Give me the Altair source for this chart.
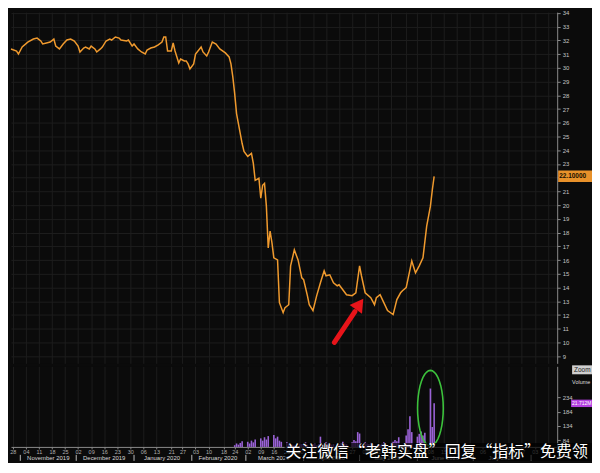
import math
import altair as alt
import pandas as pd

# ---------------- data ----------------
START = pd.Timestamp("2019-10-28")

PRICE_DAY = [-1, 2, 3, 5, 8, 11, 13, 15, 16, 18, 20, 22, 23, 25, 27, 29, 31, 33, 35, 36,
             38, 39, 41, 42, 44, 45, 47, 48, 50, 52, 53, 55, 57, 58, 61, 62, 64, 65, 67, 69,
             71, 72, 74, 76, 78, 80, 81, 82, 83, 85, 86, 87, 89, 90, 92, 93, 94, 95, 97, 98,
             101, 102, 104, 105, 107, 109, 111, 114, 116, 117, 118, 119, 120, 121, 123, 124,
             126, 128, 129, 130, 132, 133, 134, 135, 136, 137, 138, 139, 140, 142, 143, 145,
             146, 148, 149, 151, 153, 155, 156, 158, 159, 161, 163, 165, 167, 168, 170, 172,
             174, 175, 177, 179, 182, 184, 186, 187, 189, 192, 194, 195, 197, 199, 201, 204,
             206, 208, 209, 211, 213, 214, 216, 218, 220, 222, 224, 225, 226]
PRICE_VAL = [31.38, 31.23, 31.01, 31.52, 31.88, 32.10, 32.17, 31.96, 31.74, 31.81, 31.88, 32.10,
             31.59, 31.38, 31.74, 32.03, 32.10, 31.96, 31.59, 31.16, 31.45, 31.52, 31.38, 31.59,
             31.38, 31.16, 31.38, 31.52, 31.96, 32.10, 32.03, 32.25, 32.17, 32.03, 31.96, 32.03,
             31.59, 31.74, 31.38, 31.16, 31.01, 31.30, 31.45, 31.52, 31.67, 31.88, 32.25, 32.25,
             31.23, 31.23, 31.81, 31.23, 30.36, 30.65, 30.51, 30.51, 30.29, 29.93, 30.29, 31.01,
             31.52, 31.16, 30.87, 31.16, 31.88, 31.74, 31.38, 31.09, 30.80, 30.29, 29.35, 28.12,
             26.67, 25.94, 24.49, 23.91, 23.55, 23.77, 23.04, 21.81, 21.96, 20.51, 21.45, 21.59,
             19.93, 16.88, 18.12, 17.25, 16.16, 16.01, 12.90, 12.17, 12.54, 12.75, 15.58, 16.74,
             16.01, 14.71, 14.57, 13.41, 12.75, 12.32, 13.41, 14.35, 15.22, 14.86, 14.93, 14.35,
             14.13, 14.20, 13.84, 13.48, 13.41, 13.62, 15.58, 14.86, 13.62, 13.26, 12.75, 13.26,
             13.48, 12.90, 12.32, 12.03, 13.12, 13.62, 13.77, 13.99, 15.29, 15.94, 15.07, 15.58,
             16.16, 18.48, 19.93, 21.09, 22.10]
assert len(PRICE_DAY) == len(PRICE_VAL)

VOL_DAY = [119, 120, 121, 122, 123, 126, 127, 128, 129, 130, 133, 134, 135, 136, 137,
           140, 141, 142, 143, 144, 147, 148, 149, 150, 151, 154, 155, 156, 157, 158,
           161, 162, 163, 164, 165, 168, 169, 170, 171, 172, 175, 176, 177, 178, 179,
           182, 183, 184, 185, 186, 189, 190, 191, 192, 193, 196, 197, 198, 199, 200,
           203, 204, 205, 206, 207, 211, 212, 213, 214, 217, 218, 219, 220, 221, 224, 225, 226]
VOL_VAL = [66, 72, 68, 74, 80, 78, 72, 82, 76, 86, 90, 82, 94, 86, 98,
           102, 90, 96, 82, 78, 76, 72, 70, 68, 66, 72, 70, 66, 76, 68,
           70, 74, 66, 70, 96, 76, 72, 70, 68, 70, 70, 74, 78, 72, 70,
           76, 84, 80, 112, 107, 76, 72, 70, 74, 70, 70, 68, 72, 76, 70,
           74, 78, 84, 80, 94, 100, 122, 168, 112, 96, 106, 114, 100, 110, 265, 130, 213]
assert len(VOL_DAY) == len(VOL_VAL)

TICK_DATES = ["2019-10-28", "2019-11-04", "2019-11-11", "2019-11-18", "2019-11-25",
              "2019-12-02", "2019-12-09", "2019-12-16", "2019-12-23", "2019-12-30",
              "2020-01-06", "2020-01-13", "2020-01-21", "2020-01-27", "2020-02-03",
              "2020-02-10", "2020-02-18", "2020-02-24", "2020-03-02", "2020-03-09",
              "2020-03-16", "2020-03-23", "2020-03-30", "2020-04-06", "2020-04-13",
              "2020-04-20", "2020-04-27", "2020-05-04", "2020-05-11", "2020-05-18",
              "2020-05-26", "2020-06-01", "2020-06-08", "2020-06-15", "2020-06-22",
              "2020-06-29", "2020-07-06", "2020-07-13", "2020-07-20", "2020-07-27",
              "2020-08-03", "2020-08-10"]
MONTH_LABEL = ["November 2019", "December 2019", "January 2020", "February 2020",
               "March 2020", "April 2020", "May 2020", "June 2020", "July 2020"]
MONTH_MID = ["2019-11-16", "2019-12-16", "2020-01-16", "2020-02-15", "2020-03-16",
             "2020-04-16", "2020-05-16", "2020-06-16", "2020-07-16"]
MONTH_START = ["2019-11-01", "2019-12-01", "2020-01-01", "2020-02-01", "2020-03-01",
               "2020-04-01", "2020-05-01", "2020-06-01", "2020-07-01", "2020-08-01"]

PRICE_TICKS = list(range(9, 35))
VOL_TICKS = [84, 134, 184, 234]
VOL_BASE = 60
LAST_PRICE_TEXT = "22.10000"
LAST_VOL_TEXT = "21.712M"

ARROW_DAY = [172.5, 183.5]
ARROW_VAL = [10.0, 12.25]
ARROW_HEAD_DAY = [186]
ARROW_HEAD_VAL = [12.8]
CIRCLE_DAY = [224]
CIRCLE_VOL = [196]

WATERMARK = "关注微信“老韩实盘”回复“指标”免费领"

# ---------------- helpers ----------------
def to_date(d):
    return (START + pd.Timedelta(hours=24 * d)).strftime("%Y-%m-%dT%H:%M:%SZ")


def dt(s):
    y, m, d = (int(p) for p in s.split("-"))
    return alt.DateTime(year=y, month=m, date=d, utc=True)


def iso(s):
    return s + "T00:00:00Z"


price_df = pd.DataFrame({"date": [to_date(d) for d in PRICE_DAY], "price": PRICE_VAL})
vol_df = pd.DataFrame({"date": [to_date(d) for d in VOL_DAY], "volume": VOL_VAL})
month_df = pd.DataFrame({"date": [iso(s) for s in MONTH_MID], "label": MONTH_LABEL})
mstart_df = pd.DataFrame({"date": [iso(s) for s in MONTH_START]})
arrow_df = pd.DataFrame({"date": [to_date(d) for d in ARROW_DAY], "price": ARROW_VAL})
head_df = pd.DataFrame({"date": [to_date(d) for d in ARROW_HEAD_DAY], "price": ARROW_HEAD_VAL})
circle_df = pd.DataFrame({"date": [to_date(d) for d in CIRCLE_DAY], "volume": CIRCLE_VOL})
last_price_df = pd.DataFrame({"price": [PRICE_VAL[-1]],
                              "lo": [PRICE_VAL[-1] - 0.42], "hi": [PRICE_VAL[-1] + 0.42],
                              "txt": [LAST_PRICE_TEXT]})
last_vol_df = pd.DataFrame({"volume": [VOL_VAL[-1]],
                            "lo": [VOL_VAL[-1] - 13], "hi": [VOL_VAL[-1] + 13],
                            "txt": [LAST_VOL_TEXT]})
one = pd.DataFrame({"k": [0]})

W = 549
H_PRICE = 353
H_VOL = 81
RIGHT = 35          # room right of the plot (page body is 584 px wide)
BG = "#0b0b0b"
GRID = "#1d1d1d"
LBL = "#c4c4c4"
AX = "#8a8a8a"
ORANGE = "#f09a2e"
PURPLE = "#9a62d6"
FONT = "Liberation Sans"

tick_vals = [dt(s) for s in TICK_DATES]
x_scale = alt.Scale(type="utc", domain=[dt("2019-10-27"), dt("2020-08-15")])
y_price = alt.Scale(domain=[8.48, 34.06], nice=False, zero=False)
y_vol = alt.Scale(domain=[VOL_BASE, 343], nice=False, zero=False)

price_x_axis = alt.Axis(values=tick_vals, labels=False, ticks=False, domain=False,
                        grid=True, gridColor=GRID)
price_y_axis = alt.Axis(orient="right", values=PRICE_TICKS, grid=True, gridColor=GRID,
                        labelColor=LBL, labelFontSize=6, tickSize=3, tickColor=AX,
                        domainColor=AX, labelPadding=2, labelFont=FONT, labelOverlap=False)
vol_x_axis = alt.Axis(values=tick_vals, format="%d", labelColor="#b0b0b0",
                      labelFontSize=5.5, tickSize=2, tickColor=AX, domainColor=AX,
                      labelPadding=1, grid=True, gridColor=GRID, labelFont=FONT,
                      labelOverlap=False)
vol_y_axis = alt.Axis(orient="right", values=VOL_TICKS, grid=False,
                      labelColor=LBL, labelFontSize=6, tickSize=3, tickColor=AX,
                      domainColor=AX, labelPadding=2, labelFont=FONT, labelOverlap=False)

PX = alt.X("date:T", scale=x_scale, axis=price_x_axis, title=None)
VX = alt.X("date:T", scale=x_scale, axis=vol_x_axis, title=None)


def PY(field):
    return alt.Y(field, scale=y_price, axis=price_y_axis, title=None)


def VY(field):
    return alt.Y(field, scale=y_vol, axis=vol_y_axis, title=None)


# ---------------- price panel ----------------
line = alt.Chart(price_df).mark_line(color=ORANGE, strokeWidth=1.5).encode(
    x=PX, y=PY("price:Q"))

price_box = alt.Chart(last_price_df).mark_rect(color="#e8912a").encode(
    x=alt.value(W + 1), x2=alt.value(W + RIGHT), y=PY("lo:Q"), y2="hi:Q")
price_txt = alt.Chart(last_price_df).mark_text(
    align="left", baseline="middle", fontSize=6.5, color="#1a1000", font=FONT, fontWeight="bold"
).encode(x=alt.value(W + 2), y=PY("price:Q"), text="txt:N")

arrow = alt.Chart(arrow_df).mark_line(color="#e8141a", strokeWidth=5, strokeCap="round").encode(
    x=PX, y=PY("price:Q"))
head = alt.Chart(head_df).mark_point(shape="triangle-up", angle=35, size=230, filled=True,
                                     color="#e8141a", opacity=1).encode(
    x=PX, y=PY("price:Q"))

price_panel = alt.layer(line, price_box, price_txt, arrow, head).properties(
    width=W, height=H_PRICE)

# ---------------- volume panel ----------------
bars = alt.Chart(vol_df).mark_rule(color=PURPLE, strokeWidth=1.6).encode(
    x=VX, y=VY("volume:Q"), y2=alt.datum(VOL_BASE))

n = 40
ell_pts = []
for i in range(n):
    a = 2 * math.pi * i / n
    ell_pts.append(f"{0.34 * math.sin(a):.3f},{-math.cos(a):.3f}")
ELLIPSE = "M" + " L".join(ell_pts) + " Z"

circle = alt.Chart(circle_df).mark_point(shape=ELLIPSE, size=76 * 76, color="#3cc23c",
                                         strokeWidth=1.6, filled=False, opacity=1).encode(
    x=VX, y=VY("volume:Q"))

month_txt = alt.Chart(month_df).mark_text(fontSize=6, color="#d8d8d8", font=FONT,
                                          baseline="middle").encode(
    x=VX, y=alt.value(H_VOL + 11), text="label:N")
month_sep = alt.Chart(mstart_df).mark_rule(color="#bbbbbb", strokeWidth=1).encode(
    x=VX, y=alt.value(H_VOL + 8), y2=alt.value(H_VOL + 14))

vol_box = alt.Chart(last_vol_df).mark_rect(color="#b43fe0").encode(
    x=alt.value(W + 14), x2=alt.value(W + RIGHT), y=VY("lo:Q"), y2="hi:Q")
vol_txt = alt.Chart(last_vol_df).mark_text(align="left", baseline="middle", fontSize=5,
                                           color="white", font=FONT).encode(
    x=alt.value(W + 15), y=VY("volume:Q"), text="txt:N")

zoom_box = alt.Chart(one).mark_rect(color="#cfcfcf").encode(
    x=alt.value(W + 15), x2=alt.value(W + RIGHT), y=alt.value(-1), y2=alt.value(8))
zoom_txt = alt.Chart(one).mark_text(text="Zoom", fontSize=6.5, color="#222222", font=FONT,
                                    baseline="middle", align="left").encode(
    x=alt.value(W + 17), y=alt.value(3.5))
volume_txt = alt.Chart(one).mark_text(text="Volume", fontSize=5.5, color="#dddddd", font=FONT,
                                      baseline="middle", align="left").encode(
    x=alt.value(W + 15), y=alt.value(16))

wm_band = alt.Chart(one).mark_rect(color="#000000", opacity=0.72).encode(
    x=alt.value(275), x2=alt.value(W + RIGHT), y=alt.value(77), y2=alt.value(H_VOL + 14))
wm_txt = alt.Chart(one).mark_text(text=WATERMARK, fontSize=16, color="#ffffff",
                                  font="Noto Sans CJK SC", baseline="middle",
                                  align="left").encode(
    x=alt.value(276), y=alt.value(86))

vol_panel = alt.layer(bars, circle, month_txt, month_sep, vol_box, vol_txt, zoom_box,
                      zoom_txt, volume_txt, wm_band, wm_txt).properties(width=W, height=H_VOL)

chart = alt.vconcat(price_panel, vol_panel, spacing=2).properties(
    padding=0, background=BG
).configure_view(stroke=None, fill=BG)

chart.save("out.html", embed_options={"renderer": "svg", "actions": False})
